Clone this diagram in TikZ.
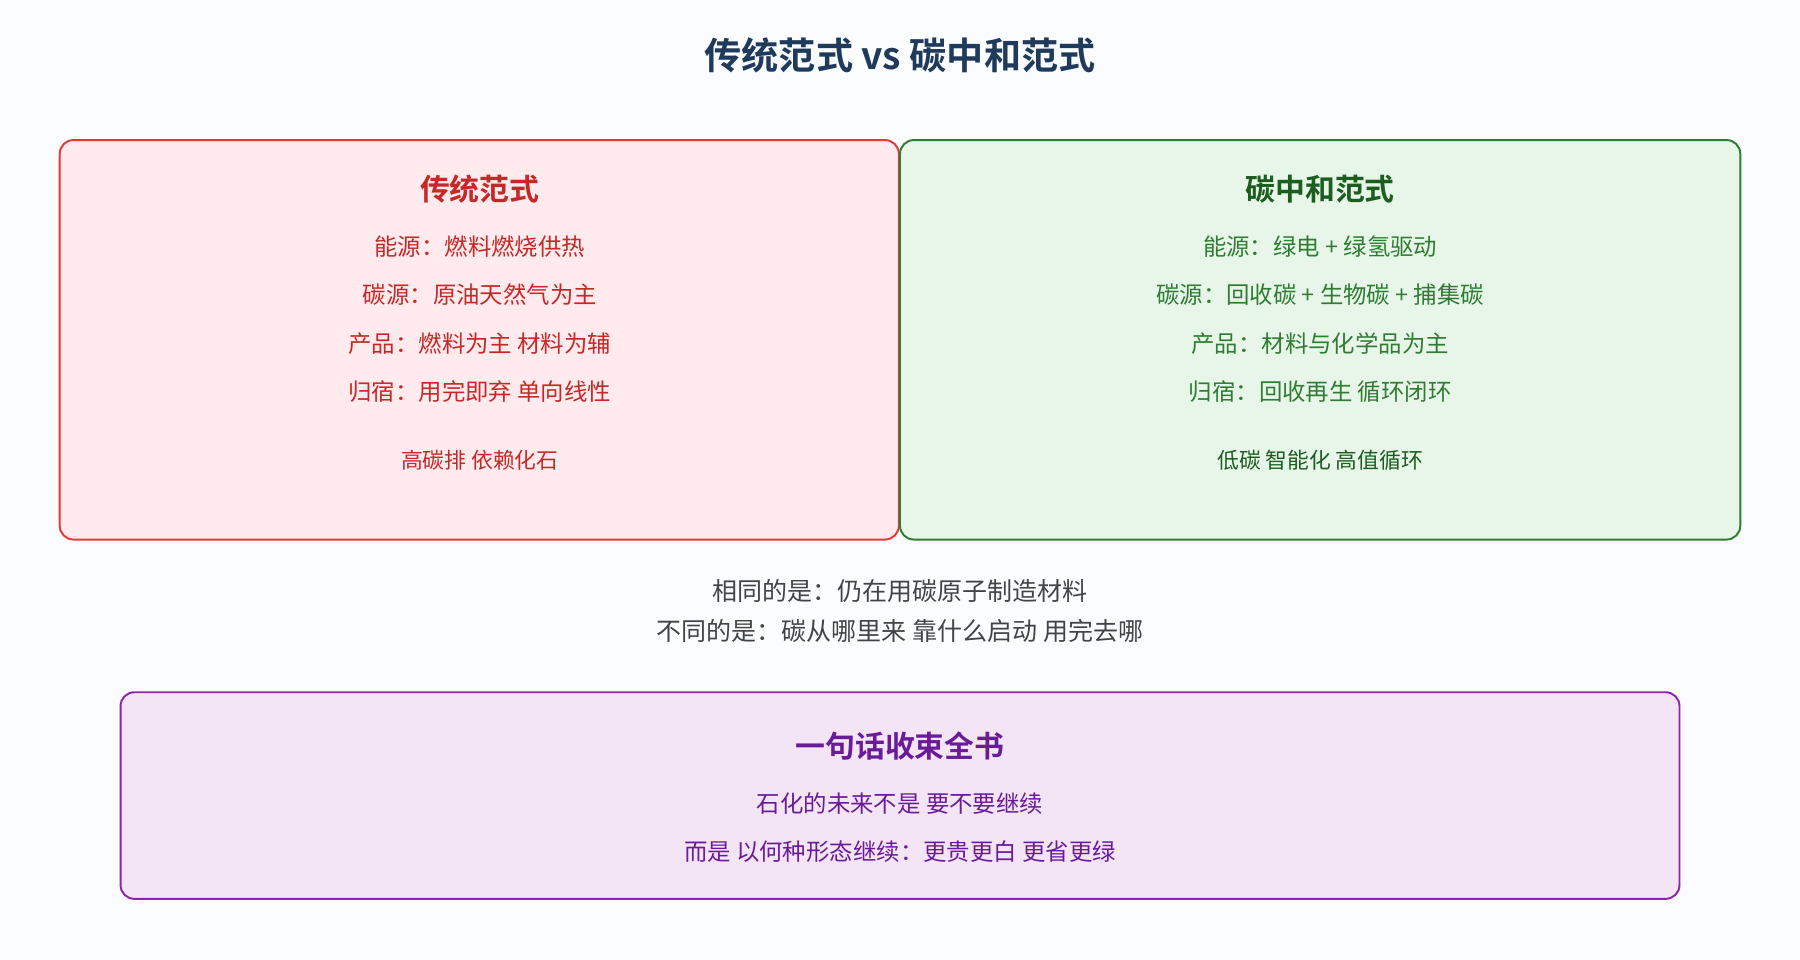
\documentclass[tikz,border=0pt]{standalone}
\usepackage{fontspec}
\setmainfont{Noto Sans CJK SC}
\newfontfamily\cjkb[FakeBold=0]{Noto Sans CJK SC Bold}
\definecolor{bg}{HTML}{FAFCFE}
\definecolor{ttl}{HTML}{1F3A5A}
\definecolor{rfill}{HTML}{FFEBEE}\definecolor{rline}{HTML}{E53935}\definecolor{rtext}{HTML}{C62828}
\definecolor{gfill}{HTML}{E8F5E9}\definecolor{gline}{HTML}{2E7D32}\definecolor{gtext}{HTML}{2E7D32}\definecolor{ghead}{HTML}{1B5E20}
\definecolor{pfill}{HTML}{F3E5F5}\definecolor{pline}{HTML}{8E24AA}\definecolor{ptext}{HTML}{6A1B9A}
\definecolor{mid}{HTML}{444444}
\begin{document}
\begin{tikzpicture}[x=0.025cm,y=-0.025cm,
  box/.style={draw,line width=1.2pt,rounded corners=0.3cm},
  body/.style={font=\fontsize{14.5}{16}\selectfont,anchor=center,inner sep=0pt},
  head/.style={font=\cjkb\fontsize{18.5}{20}\selectfont,anchor=center,inner sep=0pt}]
\fill[bg] (0,0) rectangle (1568,836);
\useasboundingbox (0,0) rectangle (1568,836);
\node[font=\cjkb\fontsize{23}{25}\selectfont,text=ttl] (t) at (784,48) {传统范式 vs 碳中和范式};
\draw[box,fill=rfill,draw=rline] (52,122) rectangle (783,470);
\draw[box,fill=gfill,draw=gline] (784,122) rectangle (1516,470);
\draw[box,fill=pfill,draw=pline] (105,603) rectangle (1463,783);
\begin{scope}[every node/.append style={text=rtext}]
\node[head] (r0) at (418,165) {传统范式};
\node[body] (r1) at (418,215) {能源：燃料燃烧供热};
\node[body] (r2) at (418,257) {碳源：原油天然气为主};
\node[body] (r3) at (418,299) {产品：燃料为主 材料为辅};
\node[body] (r4) at (418,341) {归宿：用完即弃 单向线性};
\node[body,font=\fontsize{13.5}{15}\selectfont] (r5) at (418,401) {高碳排 依赖化石};
\end{scope}
\begin{scope}[every node/.append style={text=gtext}]
\node[head,text=ghead] (g0) at (1150,165) {碳中和范式};
\node[body] (g1) at (1150,215) {能源：绿电 + 绿氢驱动};
\node[body] (g2) at (1150,257) {碳源：回收碳 + 生物碳 + 捕集碳};
\node[body] (g3) at (1150,299) {产品：材料与化学品为主};
\node[body] (g4) at (1150,341) {归宿：回收再生 循环闭环};
\node[body,font=\fontsize{13.5}{15}\selectfont,text=ghead] (g5) at (1150,401) {低碳 智能化 高值循环};
\end{scope}
\node[body,text=mid,font=\fontsize{15.5}{17}\selectfont] (m1) at (784,515) {相同的是：仍在用碳原子制造材料};
\node[body,text=mid,font=\fontsize{15.5}{17}\selectfont] (m2) at (784,550) {不同的是：碳从哪里来 靠什么启动 用完去哪};
\begin{scope}[every node/.append style={text=ptext}]
\node[head] (p0) at (784,650) {一句话收束全书};
\node[body] (p1) at (784,700) {石化的未来不是 要不要继续};
\node[body] (p2) at (784,742) {而是 以何种形态继续：更贵更白 更省更绿};
\end{scope}
\end{tikzpicture}
\end{document}
